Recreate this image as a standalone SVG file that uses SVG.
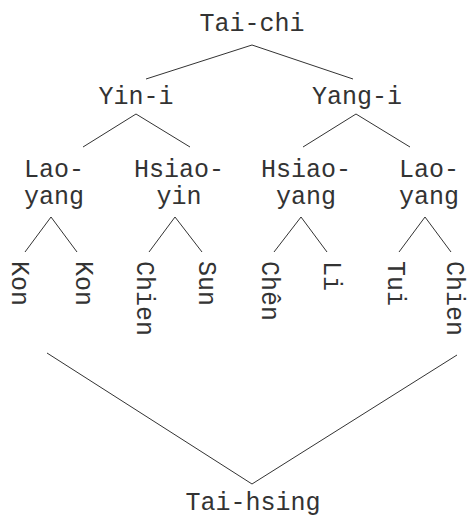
<svg xmlns="http://www.w3.org/2000/svg" width="467" height="518" viewBox="0 0 467 518">
<style>
text{font-family:"Liberation Mono","Courier New",monospace;font-size:25px;fill:#333}
.c{text-anchor:middle}
line{stroke:#333;stroke-width:1;fill:none}
</style>
<rect width="467" height="518" fill="#fff"/>
<g id="connectors">
<line x1="252" y1="45" x2="146" y2="79"/>
<line x1="252" y1="45" x2="353" y2="79"/>
<line x1="136" y1="114" x2="83" y2="147"/>
<line x1="136" y1="114" x2="190" y2="147"/>
<line x1="356" y1="114" x2="303" y2="147"/>
<line x1="356" y1="114" x2="410" y2="147"/>
<line x1="51" y1="217" x2="25" y2="252"/>
<line x1="51" y1="217" x2="77" y2="252"/>
<line x1="175" y1="217" x2="149" y2="252"/>
<line x1="175" y1="217" x2="202" y2="252"/>
<line x1="301" y1="217" x2="274" y2="252"/>
<line x1="301" y1="217" x2="327" y2="252"/>
<line x1="425" y1="217" x2="399" y2="252"/>
<line x1="425" y1="217" x2="451" y2="252"/>
<line x1="47" y1="353" x2="252" y2="484"/>
<line x1="457" y1="355" x2="252" y2="484"/>
</g>
<g id="tai-chi"><text class="c" x="252" y="31">Tai-chi</text></g>
<g id="yin-i"><text class="c" x="136" y="104">Yin-i</text></g>
<g id="yang-i"><text class="c" x="357" y="104">Yang-i</text></g>
<g id="lao-yang-1"><text class="c" x="54" y="177">Lao-</text><text class="c" x="54" y="204">yang</text></g>
<g id="hsiao-yin"><text class="c" x="179" y="177">Hsiao-</text><text class="c" x="179" y="204">yin</text></g>
<g id="hsiao-yang"><text class="c" x="306" y="177">Hsiao-</text><text class="c" x="306" y="204">yang</text></g>
<g id="lao-yang-2"><text class="c" x="429" y="177">Lao-</text><text class="c" x="429" y="204">yang</text></g>
<g id="kon-1"><text transform="translate(12,261) rotate(90)">Kon</text></g>
<g id="kon-2"><text transform="translate(76,261) rotate(90)">Kon</text></g>
<g id="chien-1"><text transform="translate(137,261) rotate(90)">Chien</text></g>
<g id="sun"><text transform="translate(199,261) rotate(90)">Sun</text></g>
<g id="chen"><text transform="translate(262,261) rotate(90)">Chên</text></g>
<g id="li"><text transform="translate(324,261) rotate(90)">Li</text></g>
<g id="tui"><text transform="translate(388,261) rotate(90)">Tui</text></g>
<g id="chien-2"><text transform="translate(447,261) rotate(90)">Chien</text></g>
<g id="tai-hsing"><text class="c" x="253" y="510">Tai-hsing</text></g>
</svg>
